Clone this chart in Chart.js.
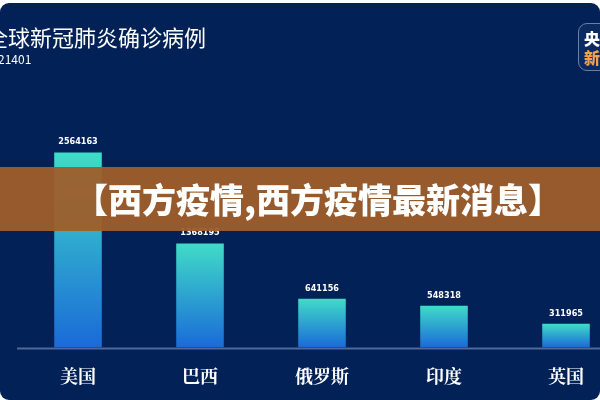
<!DOCTYPE html>
<html><head><meta charset="utf-8">
<script src="https://cdn.jsdelivr.net/npm/chart.js@4"></script>
<style>
html,body{margin:0;padding:0;background:#fff;width:600px;height:400px;overflow:hidden;font-family:"Noto Sans CJK SC",sans-serif}
#bg{position:absolute;left:0;top:3px;width:600px;height:397px;background:#022157;border-radius:9px;overflow:hidden}
#wrap{position:absolute;left:17px;top:0;width:610px;height:397px}
#title{position:absolute;left:-14px;top:17px;color:#fff;font-size:22px;white-space:nowrap}
#sub{position:absolute;left:-2px;top:47px;color:#fff;font-size:12px}
#logo{position:absolute;left:578px;top:20px;width:44px;height:48px;border:1.5px solid #6a7fa8;border-radius:9px;background:#0a2a60;font-weight:900;font-size:16px;line-height:19px;padding:5px 0 0 5px;box-sizing:border-box}
#banner{position:absolute;left:0;top:167px;width:600px;height:64px;background:rgba(158,94,42,0.95);color:#fff;font-weight:900;font-size:34px;line-height:64px;padding-left:74px;box-sizing:border-box;white-space:nowrap}
</style></head><body>
<div id="bg">
<div id="wrap"><canvas id="c" width="610" height="397"></canvas></div>
<div id="title">全球新冠肺炎确诊病例</div>
<div id="sub">21401</div>
<div id="logo"><span style="color:#fff">央视</span><br><span style="color:#f0a050">新闻</span></div>
</div>
<div id="banner">【西方疫情,西方疫情最新消息】</div>
<script>
const categories=["美国","巴西","俄罗斯","印度","英国"];
const cases=[2564163,1368195,641156,548318,311965];
const valueLabels=["2564163","1368195","641156","548318","311965"];
const labelPlugin={id:'lbl',afterDatasetsDraw(ch){const ctx=ch.ctx;const m=ch.getDatasetMeta(0);ctx.save();ctx.fillStyle='#fff';ctx.font='bold 9px "DejaVu Sans Condensed",sans-serif';ctx.textAlign='center';m.data.forEach((b,i)=>{ctx.fillText(valueLabels[i],b.x,b.y-8);});ctx.restore();}};
const axisPlugin={id:'ax',afterDraw(ch){const ctx=ch.ctx;const y=ch.scales.y.getPixelForValue(0);ctx.save();ctx.strokeStyle='#4f6a9a';ctx.lineWidth=2;ctx.beginPath();ctx.moveTo(0,y+1);ctx.lineTo(ch.width,y+1);ctx.stroke();ctx.restore();}};
new Chart(document.getElementById('c'),{type:'bar',
data:{labels:categories,datasets:[{data:cases,barPercentage:0.39,categoryPercentage:1,
backgroundColor(ctx){const a=ctx.chart.chartArea;if(!a||ctx.raw==null)return'#2aa';const s=ctx.chart.scales.y;const y0=s.getPixelForValue(0);const y1=s.getPixelForValue(ctx.raw);const g=ctx.chart.ctx.createLinearGradient(0,y0,0,y1);g.addColorStop(0,'#1a6ad8');g.addColorStop(1,'#40dcc8');return g;}}]},
options:{responsive:false,animation:false,devicePixelRatio:1,
layout:{padding:{top:0,bottom:3,left:0,right:0}},
plugins:{legend:{display:false},tooltip:{enabled:false}},
scales:{x:{grid:{display:false},border:{display:false},ticks:{color:'#fff',font:{family:'"Noto Serif CJK SC","Noto Sans CJK SC",serif',size:18,weight:'bold'},padding:10}},
y:{display:false,min:0,max:4530000}}},
plugins:[labelPlugin,axisPlugin]});
</script>
</body></html>
